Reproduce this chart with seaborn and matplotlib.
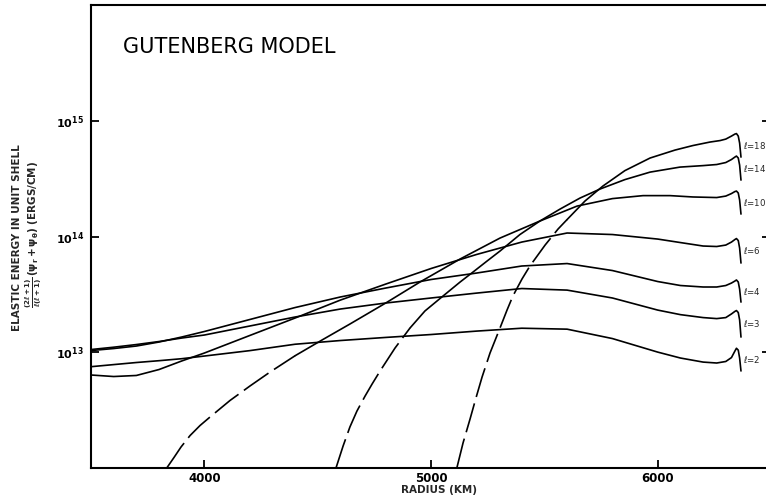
import numpy as np
import pandas as pd
import matplotlib
matplotlib.use("Agg")
import matplotlib.pyplot as plt
import seaborn as sns
from matplotlib.ticker import FixedLocator, FixedFormatter, NullLocator

sns.set_style("ticks")
plt.rcParams["font.family"] = ["DejaVu Sans"]
plt.rcParams["mathtext.fontset"] = "dejavusans"

# Radius (km) for the low-order modes l = 2, 3, 4, 6
radius_low = [3500, 3600, 3700, 3800, 3900, 4000, 4200, 4400, 4600, 4800,
              5000, 5200, 5400, 5600, 5800, 6000, 6100, 6200, 6260, 6300,
              6325, 6340, 6347, 6355, 6361, 6367]

# Elastic energy in a unit shell (ergs/cm)
energy_l2 = [7.48e12, 7.80e12, 8.13e12, 8.43e12, 8.77e12, 9.25e12, 1.03e13,
             1.17e13, 1.26e13, 1.34e13, 1.42e13, 1.52e13, 1.61e13, 1.58e13,
             1.31e13, 1.00e13, 8.89e12, 8.20e12, 8.05e12, 8.30e12, 8.97e12,
             1.02e13, 1.08e13, 1.04e13, 8.89e12, 6.87e12]
energy_l3 = [1.053e13, 1.103e13, 1.163e13, 1.235e13, 1.324e13, 1.406e13,
             1.682e13, 2.012e13, 2.36e13, 2.66e13, 2.94e13, 3.24e13, 3.55e13,
             3.44e13, 2.94e13, 2.31e13, 2.11e13, 1.99e13, 1.95e13, 1.99e13,
             2.14e13, 2.25e13, 2.29e13, 2.20e13, 1.90e13, 1.35e13]
energy_l4 = [1.032e13, 1.074e13, 1.129e13, 1.223e13, 1.351e13, 1.508e13,
             1.914e13, 2.43e13, 3.00e13, 3.585e13, 4.25e13, 4.83e13, 5.56e13,
             5.84e13, 5.08e13, 4.08e13, 3.77e13, 3.66e13, 3.66e13, 3.77e13,
             3.96e13, 4.12e13, 4.21e13, 4.04e13, 3.51e13, 2.71e13]
energy_l6 = [6.34e12, 6.15e12, 6.28e12, 7.07e12, 8.38e12, 9.82e12, 1.392e13,
             1.972e13, 2.82e13, 3.88e13, 5.29e13, 6.99e13, 8.96e13, 1.073e14,
             1.041e14, 9.51e13, 8.87e13, 8.28e13, 8.20e13, 8.44e13, 8.96e13,
             9.42e13, 9.61e13, 9.23e13, 7.95e13, 5.90e13]

# Higher-order modes start above the core boundary
radius_l10 = [3835, 3866, 3897, 3937, 3981, 4025, 4113, 4201, 4290, 4400,
              4519, 4642, 4800, 4951, 5128, 5304, 5480, 5644, 5800, 5935,
              6054, 6155, 6260, 6300, 6325, 6340, 6347, 6355, 6361, 6367]
energy_l10 = [1.00e12, 1.225e12, 1.51e12, 1.898e12, 2.318e12, 2.745e12,
              3.814e12, 5.09e12, 6.73e12, 9.3e12, 1.273e13, 1.75e13, 2.66e13,
              4.04e13, 6.39e13, 9.70e13, 1.362e14, 1.835e14, 2.13e14, 2.26e14,
              2.26e14, 2.20e14, 2.175e14, 2.24e14, 2.355e14, 2.45e14,
              2.475e14, 2.38e14, 2.07e14, 1.565e14]

radius_l14 = [4581, 4612, 4642, 4673, 4709, 4740, 4775, 4841, 4907, 4973,
              5053, 5128, 5185, 5247, 5304, 5392, 5480, 5569, 5657, 5745,
              5855, 5966, 6098, 6200, 6260, 6300, 6325, 6340, 6347, 6355,
              6361, 6367]
energy_l14 = [1.00e12, 1.541e12, 2.25e12, 3.09e12, 4.17e12, 5.30e12, 6.86e12,
              1.085e13, 1.616e13, 2.27e13, 3.06e13, 4.04e13, 4.93e13, 6.14e13,
              7.49e13, 1.041e14, 1.362e14, 1.729e14, 2.153e14, 2.576e14,
              3.11e14, 3.61e14, 3.99e14, 4.11e14, 4.20e14, 4.37e14, 4.64e14,
              4.87e14, 4.97e14, 4.78e14, 4.155e14, 3.08e14]

radius_l18 = [5114, 5141, 5172, 5198, 5225, 5260, 5304, 5335, 5361, 5401,
              5436, 5503, 5560, 5600, 5679, 5758, 5855, 5966, 6076, 6155,
              6230, 6275, 6300, 6325, 6340, 6347, 6355, 6361, 6367]
energy_l18 = [1.00e12, 1.636e12, 2.64e12, 4.01e12, 6.09e12, 9.82e12,
              1.616e13, 2.31e13, 3.06e13, 4.29e13, 5.56e13, 8.44e13, 1.161e14,
              1.403e14, 2.03e14, 2.735e14, 3.72e14, 4.78e14, 5.60e14, 6.13e14,
              6.57e14, 6.77e14, 6.97e14, 7.40e14, 7.70e14, 7.78e14, 7.40e14,
              6.44e14, 4.87e14]

degrees = [2, 3, 4, 6, 10, 14, 18]
y_ticks = [1e13, 1e14, 1e15]
y_tick_labels = [r"$\mathbf{10^{13}}$", r"$\mathbf{10^{14}}$", r"$\mathbf{10^{15}}$"]
x_ticks = [4000, 5000, 6000]
x_tick_labels = ["4000", "5000", "6000"]

curves = {
    2: (radius_low, energy_l2),
    3: (radius_low, energy_l3),
    4: (radius_low, energy_l4),
    6: (radius_low, energy_l6),
    10: (radius_l10, energy_l10),
    14: (radius_l14, energy_l14),
    18: (radius_l18, energy_l18),
}
# radius up to which the weak lower branch is drawn dashed
dash_end = {10: 4400, 14: 4907, 18: 5600}

W, H = 766, 499
fig = plt.figure(figsize=(W / 100, H / 100), dpi=100)
ax = fig.add_axes([91 / W, (H - 467.7) / H, 679 / W, 462.3 / H])
ax.set_yscale("log")

line_kw = dict(color="black", linewidth=1.2, estimator=None, sort=False,
               legend=False)
for l in degrees:
    r, e = curves[l]
    df = pd.DataFrame({"radius": r, "energy": e})
    if l in dash_end:
        k = int(np.searchsorted(df["radius"].values, dash_end[l], side="right")) - 1
        sns.lineplot(data=df.iloc[:k + 1], x="radius", y="energy", ax=ax,
                     linestyle=(0, (18, 4)), **line_kw)
        sns.lineplot(data=df.iloc[k:], x="radius", y="energy", ax=ax, **line_kw)
    else:
        sns.lineplot(data=df, x="radius", y="energy", ax=ax, **line_kw)
    # label sits beside the steep drop at the free surface
    tail = np.asarray(e[-6:])
    y_lab = np.sqrt(tail.max() * tail[-1])
    ax.text(6375, y_lab, rf"$\ell$=" + str(l), fontsize=6.2,
            ha="left", va="center", clip_on=False)

ax.set_xlim(3500, 6495)
ax.set_ylim(1e12, 1e16)

ax.yaxis.set_major_locator(FixedLocator(y_ticks))
ax.yaxis.set_major_formatter(FixedFormatter(y_tick_labels))
ax.yaxis.set_minor_locator(NullLocator())
ax.xaxis.set_major_locator(FixedLocator(x_ticks))
ax.xaxis.set_major_formatter(FixedFormatter(x_tick_labels))
ax.xaxis.set_minor_locator(NullLocator())

ax.tick_params(axis="both", which="major", direction="in", length=6,
               width=1.3, color="black", labelcolor="black")
ax.tick_params(axis="y", right=True, labelright=False, labelsize=8, pad=5)
ax.tick_params(axis="x", top=False, labelsize=8.5, pad=3)
for lab in ax.get_xticklabels():
    lab.set_fontweight("bold")
for side in ["left", "bottom", "top", "right"]:
    ax.spines[side].set_visible(True)
    ax.spines[side].set_linewidth(1.5)
    ax.spines[side].set_color("black")

ax.set_xlabel("")
ax.set_ylabel("")

ax.text(0.0467, 0.9107, "GUTENBERG MODEL", transform=ax.transAxes,
        fontsize=15, ha="left", va="center", color="black")

fig.text(439 / W, (H - 490) / H, "RADIUS (KM)", fontsize=7.5,
         fontweight="bold", ha="center", va="center")
fig.text(17 / W, (H - 238) / H, "ELASTIC ENERGY IN UNIT SHELL", fontsize=7.5,
         fontweight="bold", rotation=90, ha="center", va="center")
fig.text(34 / W, (H - 234) / H,
         r"$\mathbf{\frac{(2\ell+1)}{\ell(\ell+1)}\,(\psi_r+\psi_\theta)}$ (ERGS/CM)",
         fontsize=7.5, fontweight="bold", rotation=90, ha="center", va="center")

fig.savefig("out.png", dpi=100, facecolor="white")
